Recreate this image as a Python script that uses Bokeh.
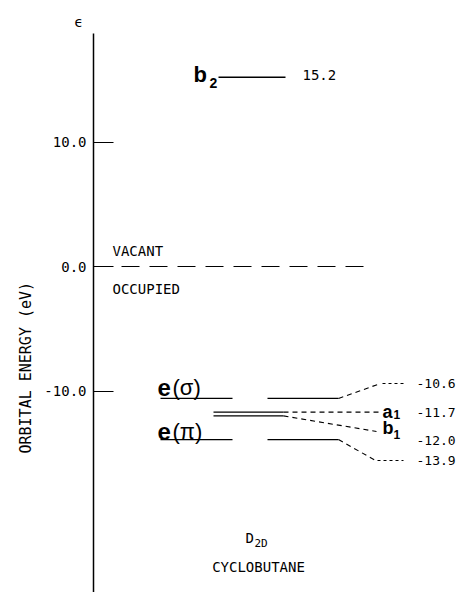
import math
from bokeh.plotting import figure
from bokeh.models import Range1d, FixedTicker, PrintfTickFormatter, Title
from bokeh.core.properties import value
from bokeh.embed import file_html
from bokeh.resources import INLINE

# ---- data ----
tick_values = [10.0, 0.0, -10.0]
b2_energy = 15.2
e_sigma_energy = -10.6
a1_energy = -11.7
b1_energy = -12.0
e_pi_energy = -13.9
right_values = [-10.6, -11.7, -12.0, -13.9]
region_labels = ["VACANT", "OCCUPIED"]

# ---- layout helpers (reference-pixel -> data) ----
PX_PER_EV = 12.45
def FX(rx):
    return rx - 93
def FY(ry):
    return (266 - ry) / PX_PER_EV

MONO = value("DejaVu Sans Mono")
SANS = value("Liberation Sans")

W, H = 462, 592
p = figure(width=W, height=H, output_backend="svg", toolbar_location=None,
           x_range=Range1d(0, W - 93), y_range=Range1d(FY(H), FY(33)),
           x_axis_location=None, min_border_left=93, min_border_top=33,
           min_border_bottom=0, min_border_right=0)
p.outline_line_color = None
p.grid.visible = False
p.background_fill_color = "white"

ax = p.yaxis[0]
ax.ticker = FixedTicker(ticks=tick_values)
ax.formatter = PrintfTickFormatter(format="%.1f")
ax.major_tick_in = 20
ax.major_tick_out = 0
ax.minor_tick_line_color = None
ax.axis_line_width = 1.5
ax.major_tick_line_width = 1.2
ax.axis_line_color = "black"
ax.major_tick_line_color = "black"
ax.major_label_text_font = "DejaVu Sans Mono"
ax.major_label_text_font_size = "14px"
ax.major_label_text_color = "black"
ax.major_label_standoff = 7

# axis title on the left, shifted down along the axis
p.add_layout(Title(text="ORBITAL ENERGY (eV)", align="left", offset=139,
                   text_font="DejaVu Sans Mono", text_font_size="15px", text_font_style="normal",
                   standoff=13, text_color="black"), "left")
# epsilon above the axis
p.add_layout(Title(text="ϵ", align="left", offset=-19, standoff=7,
                   text_font="DejaVu Sans", text_font_size="14px", text_font_style="normal",
                   text_color="black"), "above")

# zero line
p.line([FX(93), FX(373)], [0, 0], line_color="black", line_width=1.1, line_dash="18 10")

LW = 1.3
p.segment(x0=[FX(218)], y0=[b2_energy], x1=[FX(285)], y1=[b2_energy], line_color="black", line_width=LW)
p.segment(x0=[FX(160)] * 2, y0=[e_sigma_energy, e_pi_energy], x1=[FX(232)] * 2,
          y1=[e_sigma_energy, e_pi_energy], line_color="black", line_width=LW)
p.segment(x0=[FX(213)] * 2, y0=[a1_energy, b1_energy], x1=[FX(283)] * 2,
          y1=[a1_energy, b1_energy], line_color="black", line_width=LW)
p.segment(x0=[FX(267)] * 2, y0=[e_sigma_energy, e_pi_energy], x1=[FX(338)] * 2,
          y1=[e_sigma_energy, e_pi_energy], line_color="black", line_width=LW)

label_y = [FY(383), FY(412), FY(440), FY(460)]
end_sigma = FY(383)
end_b1 = FY(431)
end_pi = FY(460)

p.segment(x0=[FX(338), FX(283), FX(283), FX(338)],
          y0=[e_sigma_energy, a1_energy, b1_energy, e_pi_energy],
          x1=[FX(380), FX(380), FX(376), FX(375)],
          y1=[end_sigma, a1_energy, end_b1, end_pi],
          line_color="black", line_width=1.1, line_dash="5 4")
p.segment(x0=[FX(382), FX(377)], y0=[end_sigma, end_pi],
          x1=[FX(403), FX(403)], y1=[end_sigma, end_pi],
          line_color="black", line_width=1.0, line_dash="3 3")

p.text(x=[FX(416)] * 4, y=label_y, text=["%.1f" % v for v in right_values],
       text_font=MONO, text_font_size="13px", text_baseline="middle",
       text_align="left", text_color="black")
p.text(x=[FX(302)], y=[FY(74)], text=["%.1f" % b2_energy], text_font=MONO,
       text_font_size="14px", text_baseline="middle", text_align="left", text_color="black")
p.text(x=[FX(112)] * 2, y=[FY(250), FY(288.5)], text=region_labels, text_font=MONO,
       text_font_size="14px", text_baseline="middle", text_align="left", text_color="black")

def sym(x, y, t, size, bold=True, font=SANS, align="left"):
    p.text(x=[x], y=[y], text=[t], text_font=font, text_font_size=size,
           text_font_style="bold" if bold else "normal", text_baseline="middle",
           text_align=align, text_color="black")

sym(FX(193), FY(73.5), "b", "22px")
sym(FX(209), FY(82), "2", "14px")
sym(FX(157), FY(387), "e", "24px")
sym(FX(172), FY(387), "(σ)", "22px", bold=False)
sym(FX(157), FY(431), "e", "24px")
sym(FX(172), FY(431), "(π)", "22px", bold=False)
sym(FX(382), FY(411.5), "a", "18px")
sym(FX(393), FY(414), "1", "12px")
sym(FX(382), FY(427), "b", "18px")
sym(FX(393), FY(434), "1", "12px")

sym(FX(245), FY(537), "D", "14px", bold=False, font=MONO)
sym(FX(254), FY(543), "2D", "11px", bold=False, font=MONO)
sym(FX(258), FY(566), "CYCLOBUTANE", "14px", bold=False, font=MONO, align="center")

open("out.html", "w").write(file_html(p, INLINE))
